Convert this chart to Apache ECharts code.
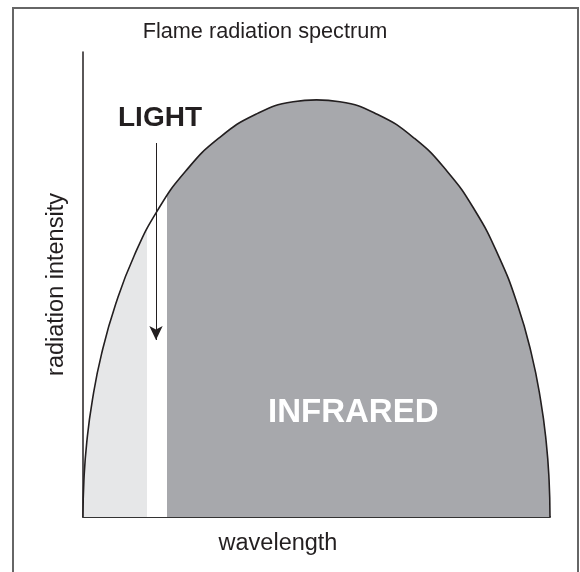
<!DOCTYPE html>
<html>
<head>
<meta charset="utf-8">
<script src="https://cdn.jsdelivr.net/npm/echarts@6/dist/echarts.min.js"></script>
<style>
html, body { margin: 0; padding: 0; background: #fff; }
#main { width: 580px; height: 572px; }
</style>
</head>
<body>
<div id="main"></div>
<script>
// wavelength (0-100) and intensity (0-100)
var wavelength = [0, 0.2, 0.8, 2, 4, 7, 11, 16, 22, 29, 37, 45, 50,
  55, 63, 71, 78, 84, 89, 93, 96, 98, 99.2, 99.8, 100]
var intensity = [0, 8.0, 16.0, 25.1, 35.2, 45.8, 56.3, 66.0, 74.4, 81.4, 86.6, 89.3, 89.7,
  89.3, 86.6, 81.4, 74.3, 65.8, 56.1, 45.8, 35.2, 25.1, 16.0, 8.0, 0]
// bands under the curve: [from, to]
var visibleBand = [0, 13.7]
var gapBand = [13.7, 18.0]
var infraredBand = [18.0, 100]

var curve = wavelength.map(function (w, i) { return [w, intensity[i]] })

// helpers to place the arrow in data units
function simpleX (px) { return (px - 83) / 467 * 100 }
function yFromPx (py) { return (517 - py) / 465 * 100 }

var chart = echarts.init(document.getElementById('main'))
chart.setOption({
  animation: false,
  textStyle: { fontFamily: 'Liberation Sans, Arial, sans-serif' },
  title: [
    {
      text: 'Flame radiation spectrum',
      left: 260, top: 16, textAlign: 'center',
      textStyle: { fontSize: 21.7, fontWeight: 'normal', color: '#231f20' }
    },
    {
      text: 'wavelength',
      left: 273, top: 527, textAlign: 'center',
      textStyle: { fontSize: 23.5, fontWeight: 'normal', color: '#231f20' }
    }
  ],
  grid: { left: 83, right: 30, top: 52, bottom: 55 },
  xAxis: {
    type: 'value', min: 0, max: 100,
    axisLine: { lineStyle: { color: '#333', width: 2 } },
    axisTick: { show: false }, axisLabel: { show: false }, splitLine: { show: false }
  },
  yAxis: {
    type: 'value', min: 0, max: 100,
    name: 'radiation intensity', nameLocation: 'middle', nameGap: 14,
    nameTextStyle: { fontSize: 23.5, color: '#231f20' },
    axisLine: { show: true, lineStyle: { color: '#231f20', width: 1.5 } },
    axisTick: { show: false }, axisLabel: { show: false }, splitLine: { show: false }
  },
  visualMap: {
    show: false, type: 'piecewise', dimension: 0, seriesIndex: 0,
    pieces: [
      { gte: visibleBand[0], lt: visibleBand[1], color: '#e6e7e8' },
      { gte: gapBand[0], lt: gapBand[1], color: '#ffffff' },
      { gte: infraredBand[0], lte: infraredBand[1], color: '#a7a8ac' }
    ]
  },
  series: [
    {
      type: 'line', data: curve, smooth: 0.5,
      showSymbol: false, lineStyle: { width: 0 },
      areaStyle: { opacity: 1 }, z: 1
    },
    {
      type: 'line', data: curve, smooth: 0.5,
      showSymbol: false, lineStyle: { color: '#231f20', width: 1.6 }, z: 3,
      markLine: {
        silent: true, symbol: ['none', 'arrow'], symbolSize: [10, 14],
        lineStyle: { color: '#231f20', width: 1, type: 'solid' },
        label: { show: false },
        data: [[{ coord: [simpleX(156), yFromPx(143)] }, { coord: [simpleX(156), yFromPx(340)] }]]
      }
    }
  ],
  graphic: [
    {
      type: 'line', shape: { x1: 13, y1: 8, x2: 13, y2: 572 },
      style: { stroke: '#666', lineWidth: 2 }, silent: true
    },
    {
      type: 'line', shape: { x1: 12, y1: 8, x2: 579, y2: 8 },
      style: { stroke: '#666', lineWidth: 2 }, silent: true
    },
    {
      type: 'line', shape: { x1: 578, y1: 8, x2: 578, y2: 572 },
      style: { stroke: '#666', lineWidth: 2 }, silent: true
    },
    {
      type: 'text', left: 118, top: 104, z: 10,
      style: { text: 'LIGHT', fill: '#231f20', font: 'bold 28px Liberation Sans, Arial, sans-serif' }
    },
    {
      type: 'text', left: 268, top: 396, z: 10,
      style: { text: 'INFRARED', fill: '#ffffff', font: 'bold 33px Liberation Sans, Arial, sans-serif' }
    }
  ]
})
</script>
</body>
</html>
